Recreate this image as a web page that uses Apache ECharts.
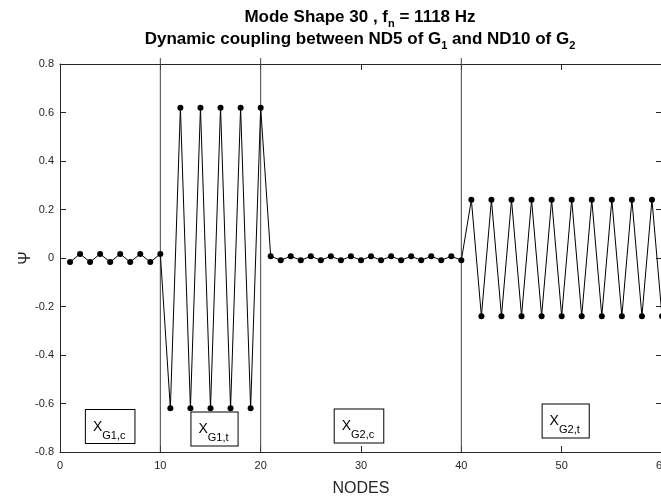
<!DOCTYPE html>
<html>
<head>
<meta charset="utf-8">
<script src="https://cdn.jsdelivr.net/npm/echarts@6/dist/echarts.min.js"></script>
<style>
  html, body { margin: 0; padding: 0; background: #fff; }
  #chart { width: 661px; height: 497px; }
</style>
</head>
<body>
<div id="chart"></div>
<script>
// Node numbers along the two gears' coupled model
const nodes = [
  1, 2, 3, 4, 5, 6, 7, 8, 9, 10,
  11, 12, 13, 14, 15, 16, 17, 18, 19, 20,
  21, 22, 23, 24, 25, 26, 27, 28, 29, 30,
  31, 32, 33, 34, 35, 36, 37, 38, 39, 40,
  41, 42, 43, 44, 45, 46, 47, 48, 49, 50,
  51, 52, 53, 54, 55, 56, 57, 58, 59, 60
];

// Mode shape amplitude at each node
const psi = [
  -0.017, 0.017, -0.017, 0.017, -0.017, 0.017, -0.017, 0.017, -0.017, 0.017,
  -0.62, 0.62, -0.62, 0.62, -0.62, 0.62, -0.62, 0.62, -0.62, 0.62,
  0.007, -0.009, 0.007, -0.009, 0.007, -0.009, 0.007, -0.009, 0.007, -0.009,
  0.007, -0.009, 0.007, -0.009, 0.007, -0.009, 0.007, -0.009, 0.007, -0.009,
  0.24, -0.24, 0.24, -0.24, 0.24, -0.24, 0.24, -0.24, 0.24, -0.24,
  0.24, -0.24, 0.24, -0.24, 0.24, -0.24, 0.24, -0.24, 0.24, -0.24
];

// Boundaries between the DOF groups
const boundaries = [10, 20, 40];

// Group labels (subscript text) and their anchor in node / psi units
const groupSubs = ['G1,c', 'G1,t', 'G2,c', 'G2,t'];
const groupAnchorX = [5.0, 15.4, 29.8, 50.4];
const groupAnchorY = [-0.695, -0.705, -0.693, -0.672];

const xMin = 0, xMax = 60, xStep = 10;
const yMin = -0.8, yMax = 0.8, yStep = 0.2;

const FONT = "'Liberation Sans', Arial, Helvetica, sans-serif";
const INK = '#262626';

const chart = echarts.init(document.getElementById('chart'), null, { renderer: 'canvas' });

const axisCommon = {
  axisLine: { show: true, onZero: false, lineStyle: { color: INK, width: 1 } },
  axisTick: { show: true, inside: true, length: 6, lineStyle: { color: INK, width: 1 } },
  splitLine: { show: false }
};

const titleRich = {
  b: { fontFamily: FONT, fontSize: 17, fontWeight: 'bold', fill: '#000', lineHeight: 17, verticalAlign: 'top' },
  s: { fontFamily: FONT, fontSize: 11, fontWeight: 'bold', fill: '#000', lineHeight: 11, padding: [9, 0, 0, 0], verticalAlign: 'top' }
};

const option = {
  animation: false,
  backgroundColor: '#fff',
  grid: { left: 60, top: 64, width: 602, height: 388, containLabel: false, outerBoundsMode: 'none' },
  graphic: [
    {
      type: 'text', x: 360, y: 9,
      style: {
        text: '{b|Mode Shape 30 , f}{s|n}{b| = 1118 Hz}',
        align: 'center', verticalAlign: 'top',
        rich: titleRich
      }
    },
    {
      type: 'text', x: 360, y: 31,
      style: {
        text: '{b|Dynamic coupling between ND5 of G}{s|1}{b| and ND10 of G}{s|2}',
        align: 'center', verticalAlign: 'top',
        rich: titleRich
      }
    }
  ],
  xAxis: [
    Object.assign({}, axisCommon, {
      type: 'value', position: 'bottom', min: xMin, max: xMax, interval: xStep,
      name: 'NODES', nameLocation: 'middle', nameGap: 29, nameMoveOverlap: false,
      nameTextStyle: { fontFamily: FONT, fontSize: 16, color: INK },
      axisLabel: { fontFamily: FONT, fontSize: 11, color: INK, margin: 8 }
    }),
    Object.assign({}, axisCommon, {
      type: 'value', position: 'top', min: xMin, max: xMax, interval: xStep,
      axisLabel: { show: false }
    })
  ],
  yAxis: [
    Object.assign({}, axisCommon, {
      type: 'value', position: 'left', min: yMin, max: yMax, interval: yStep,
      name: 'Ψ', nameLocation: 'middle', nameGap: 26, nameRotate: 90, nameMoveOverlap: false,
      nameTextStyle: { fontFamily: FONT, fontSize: 16, color: INK },
      axisLabel: {
        fontFamily: FONT, fontSize: 11, color: INK, margin: 6,
        formatter: v => (Math.abs(v) < 1e-9 ? '0' : v.toFixed(1))
      }
    }),
    Object.assign({}, axisCommon, {
      type: 'value', position: 'right', min: yMin, max: yMax, interval: yStep,
      axisLabel: { show: false }
    })
  ],
  series: [
    {
      // vertical group separators, running slightly past the top edge
      type: 'custom',
      xAxisIndex: 0, yAxisIndex: 0,
      data: boundaries.map(b => [b]),
      clip: false,
      z: 1,
      renderItem: (params, api) => {
        const b = api.value(0);
        const p0 = api.coord([b, yMin]);
        const p1 = api.coord([b, yMax]);
        return {
          type: 'line',
          shape: { x1: p0[0], y1: p0[1], x2: p1[0], y2: p1[1] - 6 },
          style: { stroke: '#444', lineWidth: 1 }
        };
      }
    },
    {
      type: 'line',
      xAxisIndex: 0, yAxisIndex: 0,
      data: nodes.map((n, i) => [n, psi[i]]),
      symbol: 'circle',
      symbolSize: 6,
      showAllSymbol: true,
      lineStyle: { color: '#000', width: 1 },
      itemStyle: { color: '#000' },
      z: 2
    },
    {
      // boxed group labels
      type: 'custom',
      xAxisIndex: 0, yAxisIndex: 0,
      data: groupSubs.map((s, i) => [groupAnchorX[i], groupAnchorY[i], s]),
      z: 3,
      renderItem: (params, api) => {
        const p = api.coord([api.value(0), api.value(1)]);
        const sub = groupSubs[params.dataIndex];
        return {
          type: 'text',
          x: p[0], y: p[1],
          style: {
            text: '{x|X}{s|' + sub + '}',
            align: 'center', verticalAlign: 'middle',
            backgroundColor: '#fff',
            borderColor: '#000', borderWidth: 1,
            padding: [10, 9, 9, 7],
            rich: {
              x: { fontFamily: FONT, fontSize: 14, fill: '#000', lineHeight: 14, verticalAlign: 'top' },
              s: { fontFamily: FONT, fontSize: 11, fill: '#000', lineHeight: 11, padding: [10, 0, 0, 0], verticalAlign: 'top' }
            }
          }
        };
      }
    }
  ]
};

chart.setOption(option);
</script>
</body>
</html>
